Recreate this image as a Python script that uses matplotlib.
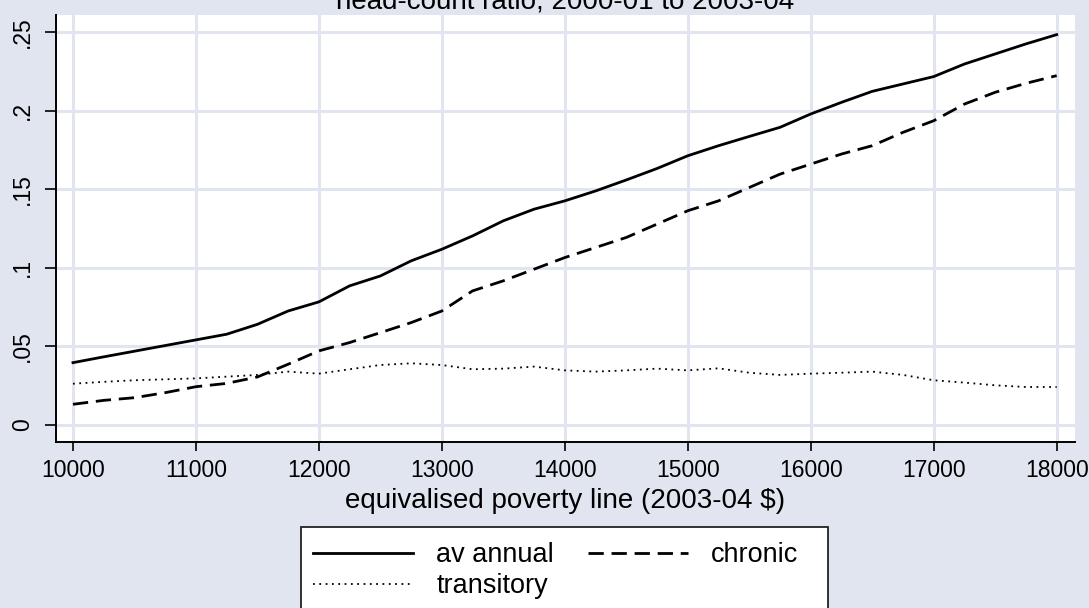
import matplotlib
matplotlib.use("Agg")
import matplotlib.pyplot as plt
from matplotlib.patches import Rectangle

plt.rcParams['font.family'] = ['Liberation Sans', 'DejaVu Sans']

# ---- data ----
poverty_line = [10000, 10250, 10500, 10750, 11000, 11250, 11500, 11750, 12000, 12250,
                12500, 12750, 13000, 13250, 13500, 13750, 14000, 14250, 14500, 14750,
                15000, 15250, 15500, 15750, 16000, 16250, 16500, 16750, 17000, 17250,
                17500, 17750, 18000]
av_annual = [0.0397, 0.0434, 0.0470, 0.0506, 0.0542, 0.0578, 0.0641, 0.0726, 0.0784, 0.0886,
             0.0949, 0.1045, 0.1119, 0.1204, 0.1300, 0.1374, 0.1427, 0.1490, 0.1560, 0.1633,
             0.1714, 0.1778, 0.1837, 0.1895, 0.1980, 0.2054, 0.2124, 0.2171, 0.2218, 0.2298,
             0.2362, 0.2426, 0.2485]
chronic = [0.0132, 0.0157, 0.0174, 0.0206, 0.0244, 0.0265, 0.0306, 0.0387, 0.0472, 0.0525,
           0.0588, 0.0652, 0.0726, 0.0854, 0.0918, 0.0992, 0.1066, 0.1130, 0.1194, 0.1279,
           0.1364, 0.1427, 0.1512, 0.1597, 0.1661, 0.1725, 0.1778, 0.1863, 0.1937, 0.2043,
           0.2118, 0.2175, 0.2224]
transitory = [0.0263, 0.0275, 0.0285, 0.0291, 0.0297, 0.0308, 0.0319, 0.0340, 0.0327, 0.0355,
              0.0382, 0.0393, 0.0382, 0.0355, 0.0359, 0.0372, 0.0348, 0.0340, 0.0348, 0.0359,
              0.0348, 0.0361, 0.0333, 0.0319, 0.0327, 0.0333, 0.0340, 0.0319, 0.0285, 0.0270,
              0.0253, 0.0242, 0.0242]
x_ticks = [10000, 11000, 12000, 13000, 14000, 15000, 16000, 17000, 18000]
y_ticks = [0, 0.05, 0.10, 0.15, 0.20, 0.25]
y_tick_labels = ['0', '.05', '.1', '.15', '.2', '.25']
series_labels = ['av annual', 'chronic', 'transitory']
title = 'head-count ratio, 2000-01 to 2003-04'
x_label = 'equivalised poverty line (2003-04 $)'

# ---- figure ----
W, H = 1089, 608
BG = '#E0E5EF'
fig = plt.figure(figsize=(W / 100, H / 100), dpi=100, facecolor=BG)
ax = fig.add_axes([56 / W, 1 - 442 / H, (1075 - 56) / W, (442 - 15) / H])
ax.set_facecolor('white')

l1, = ax.plot(poverty_line, av_annual, color='black', lw=2.0, solid_joinstyle='round')
l2, = ax.plot(poverty_line, chronic, color='black', lw=2.0, dashes=(5.5, 2.8))
l3, = ax.plot(poverty_line, transitory, color='black', lw=1.3, dashes=(1, 2.5))

ax.set_xlim(9862, 18149)
ax.set_ylim(-0.0108, 0.261)
ax.set_xticks(x_ticks)
ax.set_yticks(y_ticks)
ax.set_yticklabels(y_tick_labels, rotation=90, va='center')
ax.tick_params(axis='y', length=8, width=1.2, pad=8, labelsize=16.5)
ax.tick_params(axis='x', length=6.5, width=1.2, pad=6, labelsize=16.5)
ax.grid(True, color=BG, lw=2.2)
ax.set_axisbelow(True)
for s in ['top', 'right']:
    ax.spines[s].set_visible(False)
for s in ['left', 'bottom']:
    ax.spines[s].set_linewidth(1.4)
ax.set_xlabel(x_label, fontsize=20, labelpad=4)

fig.text((56 + 1075) / 2 / W, 1 - 8 / H, title, ha='center', va='baseline', fontsize=20)

# legend box
rect = Rectangle((301 / W, -0.05), (828 - 301) / W, 1 - 527 / H + 0.05,
                 transform=fig.transFigure, facecolor='white', edgecolor='#222222',
                 lw=1.3, zorder=1)
fig.add_artist(rect)
leg = fig.legend([l1, l3, l2], [series_labels[0], series_labels[2], series_labels[1]],
                 loc='upper left',
                 bbox_to_anchor=(313 / W, 1 - 542 / H), borderaxespad=0, borderpad=0,
                 ncol=2, frameon=False, fontsize=19.5, handlelength=3.7, handletextpad=0.85,
                 columnspacing=1.25, labelspacing=0.2)
leg.set_zorder(5)

fig.savefig('out.png', dpi=100, facecolor=BG)
